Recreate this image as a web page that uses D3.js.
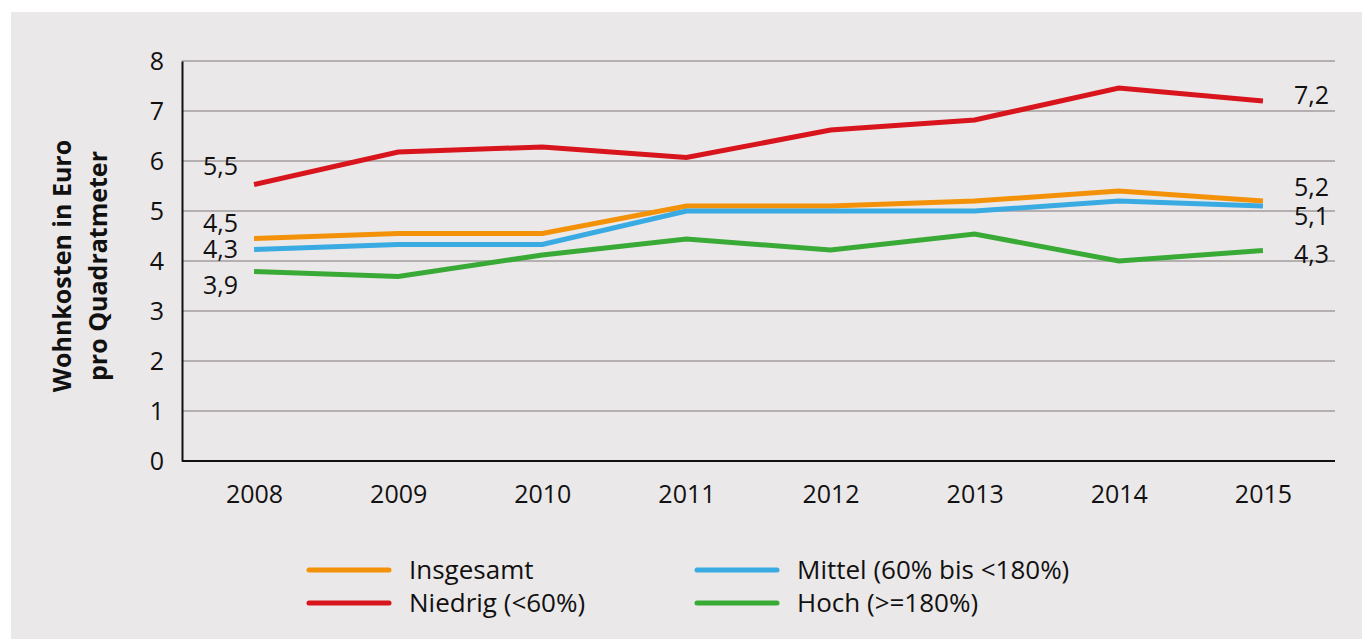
<!DOCTYPE html>
<html>
<head>
<meta charset="utf-8">
<script src="https://cdn.jsdelivr.net/npm/d3@7"></script>
<style>
	body { margin: 0; background: #fff; }
	svg text { font-family: "Open Sans", "Noto Sans", sans-serif; fill: #111; }
</style>
</head>
<body>
<div id="chart"></div>
<script>
/* Wohnkosten pro Quadratmeter nach Einkommensgruppe */

var years = ["2008", "2009", "2010", "2011", "2012", "2013", "2014", "2015"];
var yTicks = [0, 1, 2, 3, 4, 5, 6, 7, 8];

var insgesamt = [4.45, 4.55, 4.55, 5.1, 5.1, 5.2, 5.4, 5.2];
var niedrig = [5.53, 6.18, 6.28, 6.07, 6.62, 6.82, 7.46, 7.2];
var mittel = [4.23, 4.33, 4.33, 5.0, 5.0, 5.0, 5.2, 5.1];
var hoch = [3.79, 3.69, 4.12, 4.44, 4.22, 4.54, 4.0, 4.21];

var seriesNames = ["Insgesamt", "Niedrig (<60%)", "Mittel (60% bis <180%)", "Hoch (>=180%)"];
var firstLabels = ["4,5", "5,5", "4,3", "3,9"];
var lastLabels = ["5,2", "7,2", "5,1", "4,3"];

(function() {
	var W = 1362, H = 639;
	var colors = ["#f39208", "#d8141d", "#3aabe2", "#3aaa37"];
	var allSeries = [insgesamt, niedrig, mittel, hoch];

	var svg = d3.select("#chart").append("svg")
		.attr("width", W)
		.attr("height", H);

	// grey panel
	svg.append("rect")
		.attr("x", 11).attr("y", 12)
		.attr("width", W - 11).attr("height", H - 12)
		.attr("fill", "#ebe8e9");

	var left = 182, right = 1335, top = 61, bottom = 461;

	var x = d3.scalePoint().domain(years).range([left, right]).padding(0.5);
	var y = d3.scaleLinear().domain([0, 8]).range([bottom, top]);

	/* gridlines */
	svg.append("g").selectAll("line")
		.data(yTicks.filter(function(d) { return d > 0; }))
		.enter().append("line")
		.attr("x1", left).attr("x2", right)
		.attr("y1", function(d) { return y(d); })
		.attr("y2", function(d) { return y(d); })
		.attr("stroke", "#b5afb0")
		.attr("stroke-width", 2);

	/* axes */
	var yAxis = svg.append("g")
		.attr("transform", "translate(" + left + ",0)")
		.call(d3.axisLeft(y).tickValues(yTicks).tickSize(0).tickPadding(18));
	yAxis.select(".domain").attr("stroke", "#111").attr("stroke-width", 2);
	yAxis.selectAll("text").style("font-size", "25px").attr("dy", "0.33em");

	var xAxis = svg.append("g")
		.attr("transform", "translate(0," + bottom + ")")
		.call(d3.axisBottom(x).tickSize(0).tickPadding(24));
	xAxis.select(".domain").attr("stroke", "#111").attr("stroke-width", 2)
		.attr("d", "M" + left + ",0H" + right);
	xAxis.selectAll("text").style("font-size", "25px");
	svg.selectAll(".tick text").attr("fill", "#111");

	/* y title */
	var title = svg.append("text")
		.attr("transform", "translate(71,266) rotate(-90)")
		.attr("text-anchor", "middle")
		.style("font-size", "25px")
		.style("font-weight", "bold");
	title.append("tspan").attr("x", 0).attr("y", 0).text("Wohnkosten in Euro");
	title.append("tspan").attr("x", 0).attr("y", 36).text("pro Quadratmeter");

	/* lines */
	var line = d3.line()
		.x(function(d, i) { return x(years[i]); })
		.y(function(d) { return y(d); });

	var drawOrder = [1, 0, 2, 3];
	drawOrder.forEach(function(s) {
		svg.append("path")
			.datum(allSeries[s])
			.attr("d", line)
			.attr("fill", "none")
			.attr("stroke", colors[s])
			.attr("stroke-width", 5);
	});

	/* end labels */
	var firstDy = [-15, -18, 0, 14];
	var lastDy = [-14, -6, 10, 4];
	allSeries.forEach(function(s, i) {
		svg.append("text")
			.attr("x", 238)
			.attr("y", y(s[0]) + firstDy[i])
			.attr("dy", "0.35em")
			.attr("text-anchor", "end")
			.style("font-size", "25px")
			.text(firstLabels[i]);
		svg.append("text")
			.attr("x", 1294)
			.attr("y", y(s[s.length - 1]) + lastDy[i])
			.attr("dy", "0.35em")
			.style("font-size", "25px")
			.text(lastLabels[i]);
	});

	/* legend */
	var legendPos = [[309, 570], [309, 603], [697, 570], [697, 603]];
	seriesNames.forEach(function(name, i) {
		var g = svg.append("g").attr("transform", "translate(" + legendPos[i][0] + "," + legendPos[i][1] + ")");
		g.append("line")
			.attr("x1", 0).attr("x2", 80)
			.attr("stroke", colors[i])
			.attr("stroke-width", 5)
			.attr("stroke-linecap", "round");
		g.append("text")
			.attr("x", 100)
			.attr("dy", "0.35em")
			.style("font-size", "26px")
			.text(name);
	});
})();
</script>
</body>
</html>
